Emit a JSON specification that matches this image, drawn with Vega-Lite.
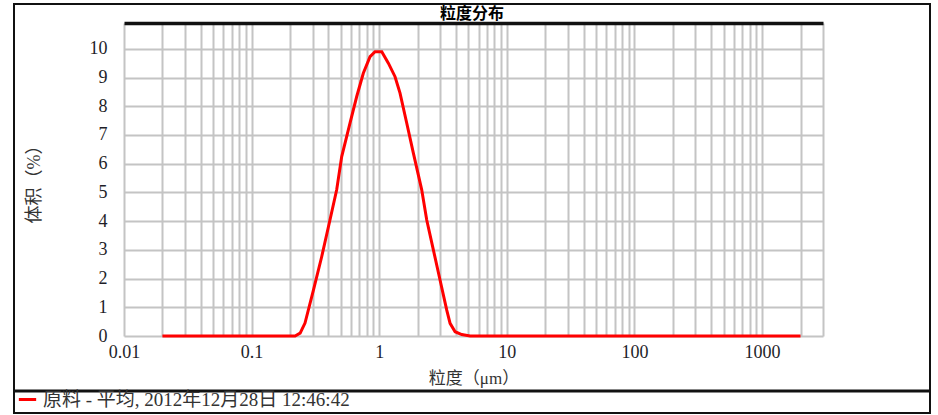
{
  "$schema": "https://vega.github.io/schema/vega-lite/v6.json",
  "width": 916,
  "height": 409,
  "autosize": "none",
  "padding": {"left": 14, "top": 4, "right": 8, "bottom": 2},
  "background": "white",
  "config": {
    "view": {"stroke": "#111111", "strokeWidth": 2},
    "font": "Liberation Serif, Noto Sans CJK SC"
  },
  "title": {
    "text": "粒度分布",
    "font": "Noto Sans CJK SC",
    "fontSize": 16,
    "fontWeight": "bold",
    "color": "#000000",
    "offset": -18
  },
  "resolve": {"axis": {"y": "independent"}},
  "layer": [
    {
      "data": {
        "values": [
          {"d": 0.02, "v": 0},
          {"d": 0.1, "v": 0},
          {"d": 0.219, "v": 0},
          {"d": 0.24, "v": 0.1},
          {"d": 0.262, "v": 0.45},
          {"d": 0.305, "v": 1.6},
          {"d": 0.354, "v": 2.76},
          {"d": 0.411, "v": 4.04},
          {"d": 0.464, "v": 5.09},
          {"d": 0.508, "v": 6.25},
          {"d": 0.59, "v": 7.41},
          {"d": 0.666, "v": 8.34},
          {"d": 0.75, "v": 9.15},
          {"d": 0.847, "v": 9.73},
          {"d": 0.927, "v": 9.9},
          {"d": 1.047, "v": 9.9},
          {"d": 1.179, "v": 9.5},
          {"d": 1.33, "v": 9.03},
          {"d": 1.455, "v": 8.46},
          {"d": 1.643, "v": 7.41},
          {"d": 1.851, "v": 6.37},
          {"d": 2.152, "v": 5.09},
          {"d": 2.356, "v": 4.04},
          {"d": 2.655, "v": 3.0},
          {"d": 2.995, "v": 1.95},
          {"d": 3.38, "v": 0.9},
          {"d": 3.59, "v": 0.44},
          {"d": 3.93, "v": 0.15},
          {"d": 4.43, "v": 0.05},
          {"d": 5.15, "v": 0},
          {"d": 100, "v": 0},
          {"d": 2000, "v": 0}
        ]
      },
      "mark": {"type": "line", "strokeWidth": 3, "clip": false},
      "encoding": {
        "x": {
          "field": "d",
          "type": "quantitative",
          "scale": {"type": "log", "domain": [0.01, 3000], "range": [110, 809]},
          "axis": {
            "orient": "bottom",
            "offset": -77,
            "zindex": 0,
            "values": [0.01, 0.02, 0.03, 0.04, 0.05, 0.06, 0.07, 0.08, 0.09, 0.1, 0.2, 0.3, 0.4, 0.5, 0.6, 0.7, 0.8, 0.9, 1, 2, 3, 4, 5, 6, 7, 8, 9, 10, 20, 30, 40, 50, 60, 70, 80, 90, 100, 200, 300, 400, 500, 600, 700, 800, 900, 1000, 2000, 3000],
            "format": "~g",
            "labelExpr": "indexof([0.01, 0.1, 1, 10, 100, 1000], datum.value) >= 0 ? datum.label : ''",
            "labelOverlap": false,
            "labelFlush": false,
            "labelFont": "Liberation Serif",
            "labelFontSize": 18,
            "labelColor": "#1e1e28",
            "labelPadding": 320,
            "ticks": true,
            "tickSize": -313,
            "tickColor": "#c4c4c4",
            "tickWidth": 2,
            "domain": false,
            "grid": false,
            "title": "粒度（μm）",
            "titleFont": "Liberation Serif, Noto Sans CJK SC",
            "titleFontSize": 17,
            "titleFontWeight": "normal",
            "titleColor": "#333333",
            "titlePadding": 9
          }
        },
        "y": {
          "field": "v",
          "type": "quantitative",
          "scale": {"domain": [0, 10.9], "range": [332, 19], "zero": false, "nice": false},
          "axis": {
            "orient": "left",
            "offset": -110,
            "zindex": 0,
            "values": [0, 1, 2, 3, 4, 5, 6, 7, 8, 9, 10, 10.9],
            "labelExpr": "datum.value > 10.5 ? '' : datum.label",
            "labelOverlap": false,
            "labelFlush": false,
            "labelFont": "Liberation Serif",
            "labelFontSize": 18,
            "labelColor": "#1e1e28",
            "labelPadding": 716,
            "ticks": true,
            "tickSize": -699,
            "tickColor": {"condition": {"test": "datum.value > 10.5", "value": "#111111"}, "value": "#c4c4c4"},
            "tickWidth": {"condition": {"test": "datum.value > 10.5", "value": 3.5}, "value": 2},
            "domain": false,
            "grid": false,
            "title": "体积（%）",
            "titleFont": "Liberation Serif, Noto Sans CJK SC",
            "titleFontSize": 18,
            "titleFontWeight": "normal",
            "titleColor": "#333333",
            "titlePadding": 46
          }
        },
        "color": {
          "datum": "原料 - 平均, 2012年12月28日 12:46:42",
          "type": "nominal",
          "scale": {"range": ["#ff0000"]},
          "legend": {
            "title": null,
            "orient": "bottom-left",
            "offset": 3,
            "padding": 0,
            "symbolType": "stroke",
            "symbolStrokeWidth": 3,
            "symbolSize": 300,
            "labelFont": "Liberation Serif, Noto Sans CJK SC",
            "labelFontSize": 19,
            "labelColor": "#333333",
            "labelOffset": 5,
            "labelLimit": 0
          }
        }
      }
    },
    {
      "data": {"values": [{}]},
      "mark": {"type": "rule", "color": "#111111", "strokeWidth": 3},
      "encoding": {
        "y": {"datum": -1.915, "type": "quantitative", "axis": null}
      }
    }
  ]
}
